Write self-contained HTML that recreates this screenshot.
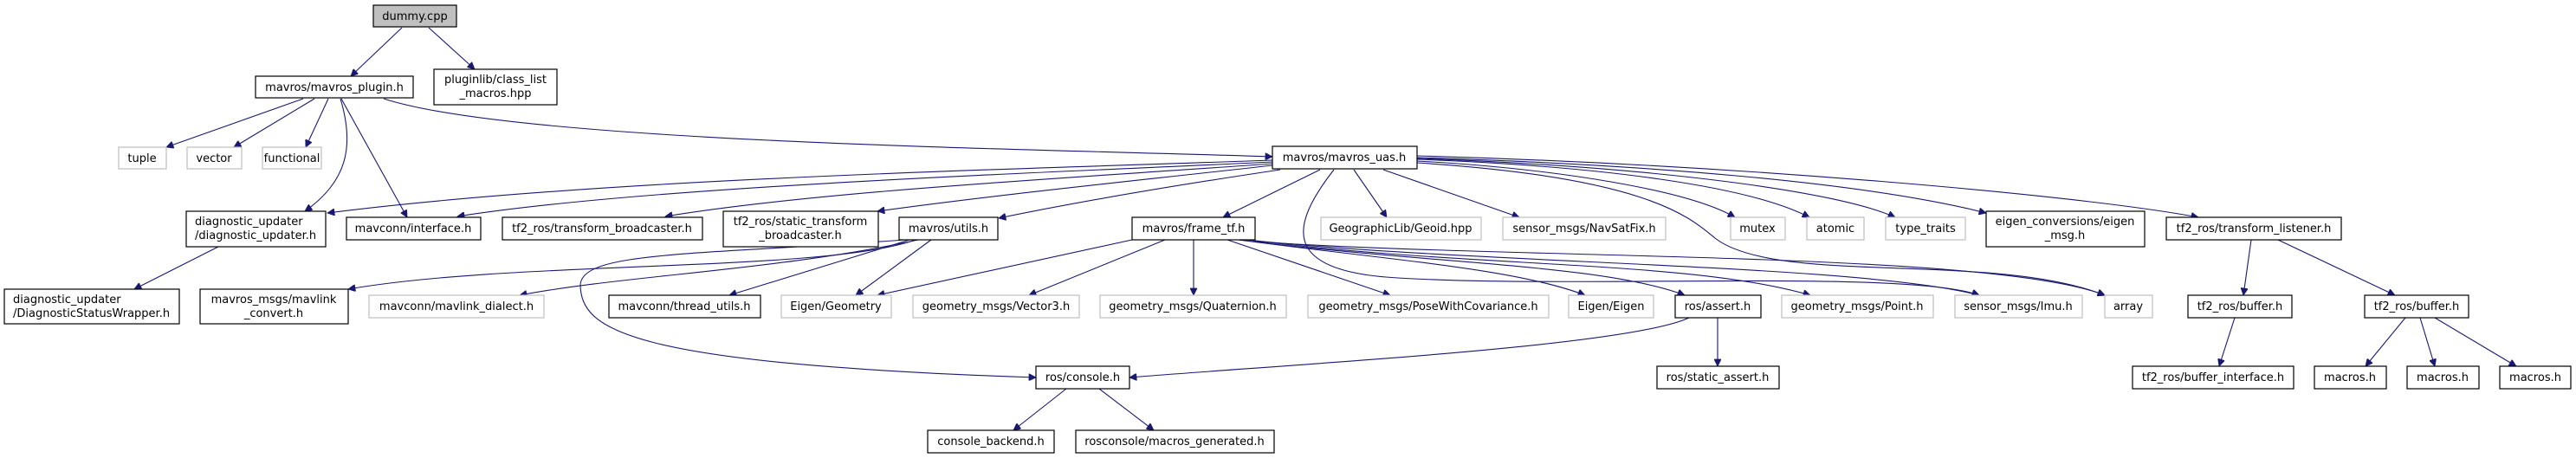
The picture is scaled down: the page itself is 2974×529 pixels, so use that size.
<!DOCTYPE html>
<html><head><meta charset="utf-8"><style>
html,body{margin:0;padding:0;background:#fff;}
svg{display:block;}
text{font-family:"DejaVu Sans","Liberation Sans",sans-serif;font-size:13px;fill:#000;}
.b{fill:#fff;stroke:#000;stroke-width:1.2;}
.g{fill:#fff;stroke:#bfbfbf;stroke-width:1.2;}
.e{fill:none;stroke:#191970;stroke-width:1.1;}
</style></head><body>
<svg width="2974" height="529" viewBox="0 0 2974 529" xmlns="http://www.w3.org/2000/svg">
<defs><marker id="a" viewBox="0 0 10 10" refX="10" refY="5" markerWidth="10" markerHeight="8" markerUnits="userSpaceOnUse" orient="auto"><path d="M0,0 L10,5 L0,10 z" fill="#191970" stroke="#191970"/></marker></defs>
<g marker-end="url(#a)" class="e">
<path class="e" d="M464,32 L405,88"/>
<path class="e" d="M495,32 L548,80"/>
<path class="e" d="M350,114 L192,170"/>
<path class="e" d="M363,114 L270,170"/>
<path class="e" d="M379,114 L353,170"/>
<path class="e" d="M393,114 C410,170 400,210 352,244"/>
<path class="e" d="M394,114 L470,251"/>
<path class="e" d="M443,114 C600,165 1200,172 1469,181"/>
<path class="e" d="M1469,185 C1200,195 700,205 378,246"/>
<path class="e" d="M1469,187 C1200,200 750,215 528,250"/>
<path class="e" d="M1469,189 C1250,205 950,220 768,250"/>
<path class="e" d="M1469,191 C1300,210 1150,225 1013,244"/>
<path class="e" d="M1478,196 C1350,215 1250,232 1153,252"/>
<path class="e" d="M1524,196 L1412,251"/>
<path class="e" d="M1563,196 L1601,251"/>
<path class="e" d="M1597,196 L1754,251"/>
<path class="e" d="M1636,186 C1800,195 1950,220 2003,251"/>
<path class="e" d="M1636,184 C1850,192 2020,215 2089,251"/>
<path class="e" d="M1636,183 C1900,192 2120,220 2188,251"/>
<path class="e" d="M1636,182 C1900,190 2150,210 2293,246"/>
<path class="e" d="M1636,180 C2000,190 2400,225 2538,251"/>
<path class="e" d="M1636,188 C1900,205 1950,250 1980,275 C2050,330 2300,290 2430,341"/>
<path class="e" d="M1540,196 C1490,260 1480,310 1600,320 C1800,335 2200,310 2285,341"/>
<path class="e" d="M1057,277 C950,315 600,300 402,334"/>
<path class="e" d="M1060,277 C900,312 720,318 600,341"/>
<path class="e" d="M1050,277 L842,341"/>
<path class="e" d="M1075,277 L988,341"/>
<path class="e" d="M1045,277 C800,295 670,290 670,330 C672,380 720,420 1196,436"/>
<path class="e" d="M1307,277 L1013,341"/>
<path class="e" d="M1345,277 L1188,341"/>
<path class="e" d="M1378,277 L1378,341"/>
<path class="e" d="M1417,277 L1605,341"/>
<path class="e" d="M1430,277 C1600,300 1750,310 1830,341"/>
<path class="e" d="M1430,277 C1650,305 1850,305 1945,341"/>
<path class="e" d="M1440,277 C1700,310 1950,300 2090,341"/>
<path class="e" d="M1440,277 C1700,305 2150,305 2285,341"/>
<path class="e" d="M1449,279 C1750,300 2300,290 2430,341"/>
<path class="e" d="M1950,367 C1880,400 1500,420 1304,436"/>
<path class="e" d="M1983,367 L1983,423"/>
<path class="e" d="M1231,449 L1170,497"/>
<path class="e" d="M1269,449 L1332,497"/>
<path class="e" d="M252,285 L155,334"/>
<path class="e" d="M2599,277 L2590,341"/>
<path class="e" d="M2630,277 L2765,341"/>
<path class="e" d="M2580,367 L2562,423"/>
<path class="e" d="M2777,367 L2731,423"/>
<path class="e" d="M2794,367 L2811,423"/>
<path class="e" d="M2811,367 L2905,423"/>
</g>
<!-- nodes -->
<rect x="431" y="6" width="96" height="25" fill="#bfbfbf" stroke="#000" stroke-width="1.2"/><text x="479" y="23" text-anchor="middle">dummy.cpp</text>
<rect class="b" x="295" y="88" width="182" height="25"/><text x="386" y="105" text-anchor="middle">mavros/mavros_plugin.h</text>
<rect class="b" x="501" y="80" width="142" height="41"/><text x="572" y="96" text-anchor="middle">pluginlib/class_list</text><text x="572" y="112" text-anchor="middle">_macros.hpp</text>
<rect class="g" x="137" y="170" width="55" height="25"/><text x="164" y="187" text-anchor="middle">tuple</text>
<rect class="g" x="216" y="170" width="63" height="25"/><text x="247" y="187" text-anchor="middle">vector</text>
<rect class="g" x="303" y="170" width="68" height="25"/><text x="337" y="187" text-anchor="middle">functional</text>
<rect class="b" x="1469" y="169" width="167" height="26"/><text x="1552" y="186" text-anchor="middle">mavros/mavros_uas.h</text>
<rect class="b" x="215" y="244" width="161" height="41"/><text x="225" y="260">diagnostic_updater</text><text x="225" y="276">/diagnostic_updater.h</text>
<rect class="b" x="400" y="251" width="155" height="26"/><text x="477" y="268" text-anchor="middle">mavconn/interface.h</text>
<rect class="b" x="580" y="251" width="231" height="26"/><text x="695" y="268" text-anchor="middle">tf2_ros/transform_broadcaster.h</text>
<rect class="b" x="835" y="244" width="179" height="41"/><text x="924" y="260" text-anchor="middle">tf2_ros/static_transform</text><text x="924" y="276" text-anchor="middle">_broadcaster.h</text>
<rect class="b" x="1038" y="251" width="114" height="26"/><text x="1095" y="268" text-anchor="middle">mavros/utils.h</text>
<rect class="b" x="1307" y="251" width="142" height="26"/><text x="1378" y="268" text-anchor="middle">mavros/frame_tf.h</text>
<rect class="g" x="1525" y="251" width="185" height="26"/><text x="1617" y="268" text-anchor="middle">GeographicLib/Geoid.hpp</text>
<rect class="g" x="1735" y="251" width="188" height="26"/><text x="1829" y="268" text-anchor="middle">sensor_msgs/NavSatFix.h</text>
<rect class="g" x="1998" y="251" width="63" height="26"/><text x="2029" y="268" text-anchor="middle">mutex</text>
<rect class="g" x="2086" y="251" width="66" height="26"/><text x="2119" y="268" text-anchor="middle">atomic</text>
<rect class="g" x="2177" y="251" width="92" height="26"/><text x="2223" y="268" text-anchor="middle">type_traits</text>
<rect class="b" x="2293" y="244" width="183" height="41"/><text x="2384" y="260" text-anchor="middle">eigen_conversions/eigen</text><text x="2384" y="276" text-anchor="middle">_msg.h</text>
<rect class="b" x="2501" y="251" width="202" height="26"/><text x="2602" y="268" text-anchor="middle">tf2_ros/transform_listener.h</text>
<rect class="b" x="5" y="334" width="202" height="40"/><text x="15" y="350">diagnostic_updater</text><text x="15" y="366">/DiagnosticStatusWrapper.h</text>
<rect class="b" x="231" y="334" width="171" height="40"/><text x="316" y="350" text-anchor="middle">mavros_msgs/mavlink</text><text x="316" y="366" text-anchor="middle">_convert.h</text>
<rect class="g" x="426" y="341" width="202" height="26"/><text x="527" y="358" text-anchor="middle">mavconn/mavlink_dialect.h</text>
<rect class="b" x="703" y="341" width="175" height="26"/><text x="790" y="358" text-anchor="middle">mavconn/thread_utils.h</text>
<rect class="g" x="902" y="341" width="127" height="26"/><text x="965" y="358" text-anchor="middle">Eigen/Geometry</text>
<rect class="g" x="1054" y="341" width="192" height="26"/><text x="1150" y="358" text-anchor="middle">geometry_msgs/Vector3.h</text>
<rect class="g" x="1270" y="341" width="215" height="26"/><text x="1377" y="358" text-anchor="middle">geometry_msgs/Quaternion.h</text>
<rect class="g" x="1510" y="341" width="278" height="26"/><text x="1649" y="358" text-anchor="middle">geometry_msgs/PoseWithCovariance.h</text>
<rect class="g" x="1811" y="341" width="98" height="26"/><text x="1860" y="358" text-anchor="middle">Eigen/Eigen</text>
<rect class="b" x="1934" y="341" width="99" height="26"/><text x="1983" y="358" text-anchor="middle">ros/assert.h</text>
<rect class="g" x="2057" y="341" width="175" height="26"/><text x="2144" y="358" text-anchor="middle">geometry_msgs/Point.h</text>
<rect class="g" x="2257" y="341" width="147" height="26"/><text x="2330" y="358" text-anchor="middle">sensor_msgs/Imu.h</text>
<rect class="g" x="2430" y="341" width="55" height="26"/><text x="2457" y="358" text-anchor="middle">array</text>
<rect class="b" x="2526" y="341" width="120" height="26"/><text x="2586" y="358" text-anchor="middle">tf2_ros/buffer.h</text>
<rect class="b" x="2730" y="341" width="120" height="26"/><text x="2790" y="358" text-anchor="middle">tf2_ros/buffer.h</text>
<rect class="b" x="1196" y="423" width="108" height="26"/><text x="1250" y="440" text-anchor="middle">ros/console.h</text>
<rect class="b" x="1913" y="423" width="141" height="26"/><text x="1983" y="440" text-anchor="middle">ros/static_assert.h</text>
<rect class="b" x="2462" y="423" width="186" height="26"/><text x="2555" y="440" text-anchor="middle">tf2_ros/buffer_interface.h</text>
<rect class="b" x="2672" y="423" width="83" height="26"/><text x="2713" y="440" text-anchor="middle">macros.h</text>
<rect class="b" x="2779" y="423" width="83" height="26"/><text x="2820" y="440" text-anchor="middle">macros.h</text>
<rect class="b" x="2886" y="423" width="82" height="26"/><text x="2927" y="440" text-anchor="middle">macros.h</text>
<rect class="b" x="1071" y="497" width="146" height="26"/><text x="1144" y="514" text-anchor="middle">console_backend.h</text>
<rect class="b" x="1242" y="497" width="229" height="26"/><text x="1356" y="514" text-anchor="middle">rosconsole/macros_generated.h</text>
</svg>
</body></html>
